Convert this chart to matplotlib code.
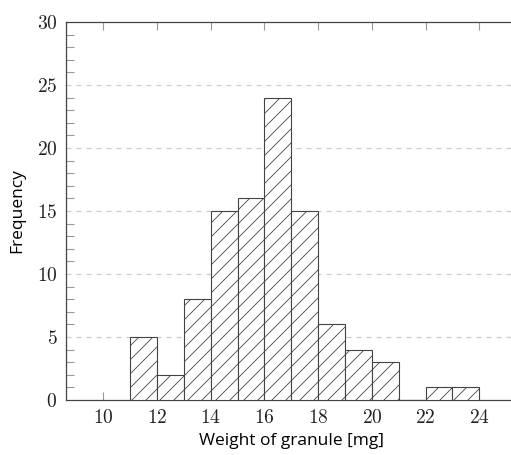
import matplotlib
matplotlib.use("Agg")
import matplotlib.pyplot as plt
from matplotlib.ticker import MultipleLocator, FuncFormatter

# histogram data: bin edges (mg) and counts per bin
bin_left = [11, 12, 13, 14, 15, 16, 17, 18, 19, 20, 21, 22, 23]
counts = [5, 2, 8, 15, 16, 24, 15, 6, 4, 3, 0, 1, 1]
bin_width = 1
x_ticks = [10, 12, 14, 16, 18, 20, 22, 24]
y_ticks = [0, 5, 10, 15, 20, 25, 30]

# dpi menor para a hachura ficar com o espaçamento certo; k compensa tamanhos em pt
DPI = 84
k = 100 / DPI

plt.rcParams['mathtext.fontset'] = 'cm'
plt.rcParams['hatch.linewidth'] = 0.6 * k

fig = plt.figure(figsize=(511 / DPI, 455 / DPI), dpi=DPI)
ax = fig.add_axes([0.1286, 0.1209, 0.883, 0.8308])

# barras com hachura diagonal
ax.bar(bin_left, counts, width=bin_width, align='edge', facecolor='white',
       edgecolor='#444444', linewidth=0.8 * k, hatch='//', zorder=3)

ax.set_xlim(8.6, 25.4)
ax.set_ylim(0, 30)
ax.set_xticks(x_ticks)
ax.set_yticks(y_ticks)
ax.yaxis.set_minor_locator(MultipleLocator(1))
fmt = FuncFormatter(lambda v, p: r'$%d$' % v)
ax.xaxis.set_major_formatter(fmt)
ax.yaxis.set_major_formatter(fmt)

# grelha horizontal tracejada
for y in y_ticks[1:-1]:
    ax.axhline(y, color='#cccccc', linestyle=(0, (4, 4)), linewidth=0.9 * k, zorder=1)

ax.tick_params(axis='both', which='both', direction='in', color='#999999',
               labelsize=14 * k, labelcolor='#222222', width=0.8 * k)
ax.tick_params(axis='x', which='major', top=True, length=6 * k, pad=6 * k)
ax.tick_params(axis='y', which='major', length=0, pad=6 * k)
ax.tick_params(axis='y', which='minor', length=6 * k)

for s in ['left', 'bottom', 'top']:
    ax.spines[s].set_color('#444444')
    ax.spines[s].set_linewidth(0.9 * k)
ax.spines['right'].set_visible(False)

ax.set_xlabel('Weight of granule [mg]', fontsize=12.5 * k, family='Open Sans', labelpad=4 * k)
ax.set_ylabel('Frequency', fontsize=12.5 * k, family='Open Sans', labelpad=8 * k)

fig.savefig('out.png', dpi=DPI)
